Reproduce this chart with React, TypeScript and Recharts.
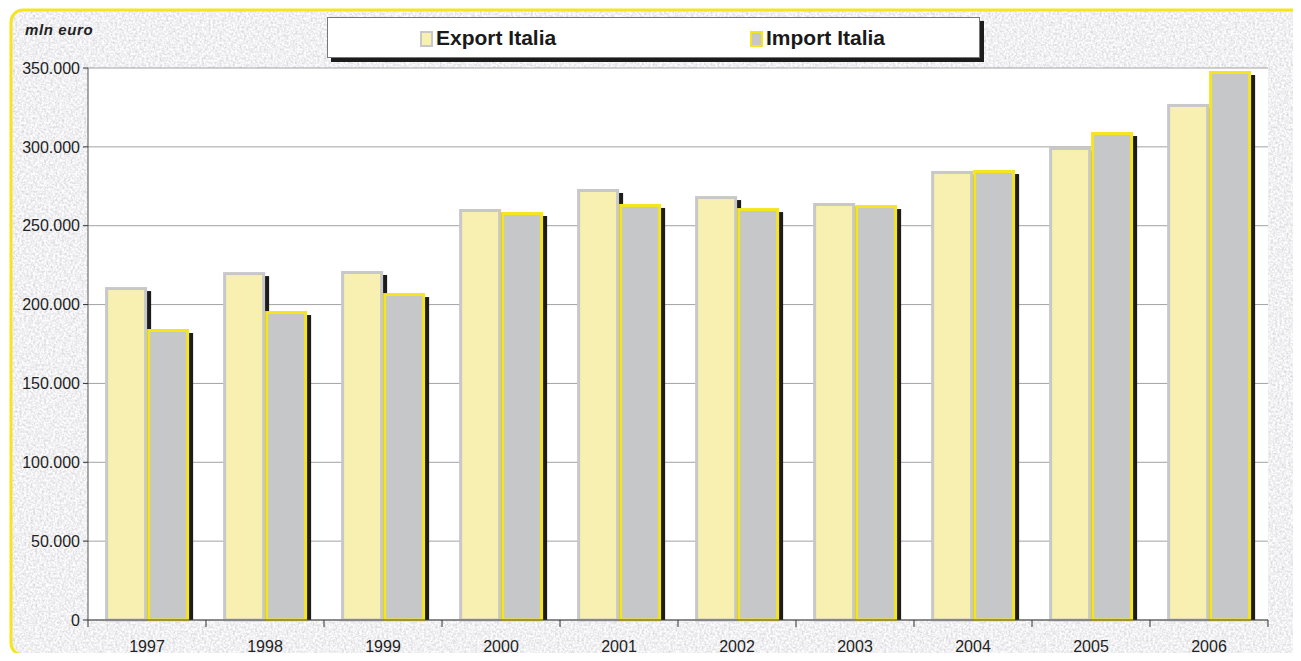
import React from 'react';
import { BarChart, Bar, XAxis, YAxis, CartesianGrid } from 'recharts';

// values in mln euro
const years = ['1997', '1998', '1999', '2000', '2001', '2002', '2003', '2004', '2005', '2006'];
const exportItalia = [211100, 220600, 221300, 260600, 273300, 268800, 264400, 284700, 299900, 327200];
const importItalia = [184500, 195900, 207300, 258700, 263800, 261200, 263100, 285300, 309400, 348100];
const yTicks = [0, 50000, 100000, 150000, 200000, 250000, 300000, 350000];

const data = years.map((year, i) => ({
    year,
    exportItalia: exportItalia[i],
    importItalia: importItalia[i],
}));

const W = 1301;
const H = 661;
const PLOT_W = 1180;
const band = PLOT_W / years.length;

const fmt = (v: number) => String(v).replace(/\B(?=(\d{3})+(?!\d))/g, '.');

const ShadowBar = (props: any) => {
    const { x, y, width, height, fill, stroke } = props;
    if (!height || height <= 0) return null;
    return (
        <g>
            <rect x={x + 4} y={y + 4} width={width} height={Math.max(height - 4, 0)} fill="#1c1c1c" />
            <rect
                x={x + 1.5}
                y={y + 1.5}
                width={width - 3}
                height={height - 1.5}
                fill={fill}
                stroke={stroke}
                strokeWidth={3}
            />
        </g>
    );
};

const YearTick = (props: any) => {
    const { x, y, payload, index } = props;
    const last = index === years.length - 1;
    return (
        <g>
            <line x1={x - band / 2} x2={x - band / 2} y1={y - 8} y2={y - 1} stroke="#333" />
            {last && <line x1={x + band / 2} x2={x + band / 2} y1={y - 8} y2={y - 1} stroke="#333" />}
            <text x={x} y={y + 24} textAnchor="middle" fontSize={16} fill="#222" fontFamily="'Liberation Sans', Arial, sans-serif">
                {payload.value}
            </text>
        </g>
    );
};

const Swatch = ({ fill, border }: { fill: string; border: string }) => (
    <span
        style={{
            display: 'inline-block',
            width: 9,
            height: 12,
            background: fill,
            border: `2px solid ${border}`,
            marginRight: 3,
            verticalAlign: 'middle',
        }}
    />
);

export default function App() {
    return (
        <div style={{ position: 'relative', margin: -8, width: W, height: H, overflow: 'hidden', fontFamily: "'Liberation Sans', Arial, sans-serif" }}>
            {/* textured panel */}
            <svg width={W} height={H} style={{ position: 'absolute', left: 0, top: 0 }}>
                <defs>
                    <filter id="grain" x="0" y="0" width="100%" height="100%">
                        <feTurbulence type="fractalNoise" baseFrequency="0.45" numOctaves={3} seed={3} result="n" />
                        <feColorMatrix
                            in="n"
                            type="matrix"
                            values="0.55 0 0 0 0.6  0.55 0 0 0 0.6  0.55 0 0 0 0.62  0 0 0 0 1"
                        />
                    </filter>
                    <clipPath id="panel">
                        <rect x={11} y={10} width={1320} height={645} rx={12} />
                    </clipPath>
                </defs>
                <rect x={0} y={0} width={W} height={H} fill="#fff" />
                <g clipPath="url(#panel)">
                    <rect x={0} y={0} width={W} height={H} filter="url(#grain)" />
                </g>
                <rect x={11} y={10} width={1320} height={645} rx={12} fill="none" stroke="#f5e51e" strokeWidth={3} />
            </svg>

            <div style={{ position: 'absolute', left: 25, top: 21, fontSize: 15, letterSpacing: 0.6, fontStyle: 'italic', fontWeight: 'bold', color: '#222' }}>
                mln euro
            </div>

            <div
                style={{
                    position: 'absolute',
                    left: 327,
                    top: 17,
                    width: 651,
                    height: 39,
                    background: '#fff',
                    border: '1px solid #777',
                    boxShadow: '4px 4px 0 #1c1c1c',
                    fontSize: 21,
                    fontWeight: 'bold',
                    color: '#1a1a1a',
                    lineHeight: '39px',
                }}
            >
                <span style={{ position: 'absolute', left: 92 }}>
                    <Swatch fill="#f7f0b0" border="#c8c8c8" />
                    Export Italia
                </span>
                <span style={{ position: 'absolute', left: 422 }}>
                    <Swatch fill="#c6c7c9" border="#f5e51e" />
                    Import Italia
                </span>
            </div>

            <div style={{ position: 'absolute', left: 0, top: 0 }}>
                <BarChart
                    width={W}
                    height={H}
                    data={data}
                    margin={{ top: 68, right: 33, left: 8, bottom: 11 }}
                    barCategoryGap="14.5%"
                    barGap={0}
                >
                    <CartesianGrid vertical={false} stroke="#a3a3a3" fill="#fff" />
                    <XAxis
                        dataKey="year"
                        height={30}
                        tickLine={false}
                        tickSize={6}
                        tickMargin={2}
                        axisLine={{ stroke: '#444' }}
                        tick={<YearTick />}
                        interval={0}
                    />
                    <YAxis
                        domain={[0, 350000]}
                        ticks={yTicks}
                        width={80}
                        tickFormatter={fmt}
                        tickSize={5}
                        tickMargin={3}
                        tickLine={{ stroke: '#333' }}
                        axisLine={{ stroke: '#555' }}
                        tick={{ fontSize: 16, fill: '#222' }}
                    />
                    <YAxis
                        yAxisId="right"
                        orientation="right"
                        width={0}
                        tick={false}
                        tickLine={false}
                        axisLine={{ stroke: '#a3a3a3' }}
                    />
                    <Bar dataKey="exportItalia" name="Export Italia" fill="#f7f0b0" stroke="#c8c8c8" shape={<ShadowBar />} isAnimationActive={false} />
                    <Bar dataKey="importItalia" name="Import Italia" fill="#c6c7c9" stroke="#f5e51e" shape={<ShadowBar />} isAnimationActive={false} />
                </BarChart>
            </div>
        </div>
    );
}
